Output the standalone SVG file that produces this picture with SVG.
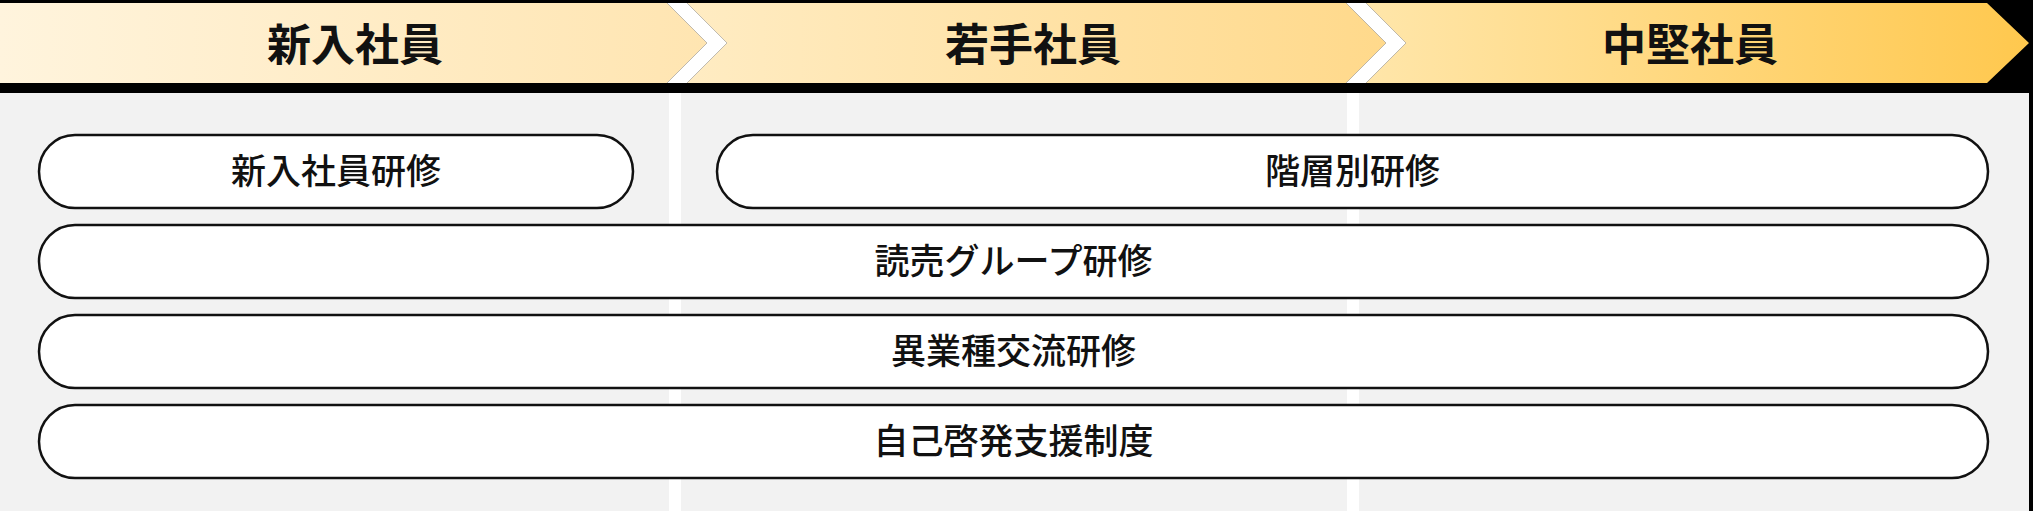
<svg xmlns="http://www.w3.org/2000/svg" width="2033" height="511" viewBox="0 0 2033 511">
  <style>
    .hdr { font-family: "Noto Sans CJK JP", "Noto Sans", sans-serif; font-size: 44px; font-weight: 700; fill: #111; text-anchor: middle; }
    .pill rect { fill: #ffffff; stroke: #111111; stroke-width: 2.5; }
    .pill text { font-family: "Noto Sans CJK JP", "Noto Sans", sans-serif; font-size: 35px; font-weight: 500; fill: #111; text-anchor: middle; }
    .sep { fill: #ffffff; }
  </style>
  <defs>
    <linearGradient id="g1" x1="0" y1="0" x2="1" y2="0">
      <stop offset="0" stop-color="#FFF4DD"/>
      <stop offset="1" stop-color="#FFE5B1"/>
    </linearGradient>
    <linearGradient id="g2" x1="0" y1="0" x2="1" y2="0">
      <stop offset="0" stop-color="#FFECC3"/>
      <stop offset="1" stop-color="#FFD98B"/>
    </linearGradient>
    <linearGradient id="g3" x1="0" y1="0" x2="1" y2="0">
      <stop offset="0" stop-color="#FFE6AA"/>
      <stop offset="1" stop-color="#FFC84E"/>
    </linearGradient>
  </defs>

  <rect x="0" y="0" width="2033" height="511" fill="#000"/>

  <g id="header">
    <polygon points="0,3 667,3 707,43 667,83 0,83" fill="url(#g1)"/>
    <polygon points="687,3 1346,3 1386,43 1346,83 687,83 727,43" fill="url(#g2)"/>
    <polygon points="1366,3 1987,3 2029,43 1987,83 1366,83 1406,43" fill="url(#g3)"/>
    <polygon points="667,3 687,3 727,43 687,83 667,83 707,43" fill="#fff"/>
    <polygon points="1346,3 1366,3 1406,43 1366,83 1346,83 1386,43" fill="#fff"/>
    <text class="hdr" x="355" y="61">新入社員</text>
    <text class="hdr" x="1033" y="61">若手社員</text>
    <text class="hdr" x="1690" y="61">中堅社員</text>
  </g>

  <g id="body">
    <rect x="0" y="93" width="2029" height="418" fill="#F2F2F2"/>
    <rect class="sep" x="669" y="93" width="12" height="418"/>
    <rect class="sep" x="1347" y="93" width="12" height="418"/>
  </g>

  <g id="connectors"></g>

  <g id="node-shinnyu" class="pill">
    <rect x="39" y="135" width="594" height="73" rx="36" ry="36.5"/>
    <text x="336" y="184">新入社員研修</text>
  </g>
  <g id="node-kaisou" class="pill">
    <rect x="717" y="135" width="1271" height="73" rx="36" ry="36.5"/>
    <text x="1352.5" y="184">階層別研修</text>
  </g>
  <g id="node-yomiuri" class="pill">
    <rect x="39" y="225" width="1949" height="73" rx="36" ry="36.5"/>
    <text x="1013.5" y="274">読売グループ研修</text>
  </g>
  <g id="node-igyoushu" class="pill">
    <rect x="39" y="315" width="1949" height="73" rx="36" ry="36.5"/>
    <text x="1013.5" y="364">異業種交流研修</text>
  </g>
  <g id="node-jiko" class="pill">
    <rect x="39" y="405" width="1949" height="73" rx="36" ry="36.5"/>
    <text x="1013.5" y="454">自己啓発支援制度</text>
  </g>
</svg>
